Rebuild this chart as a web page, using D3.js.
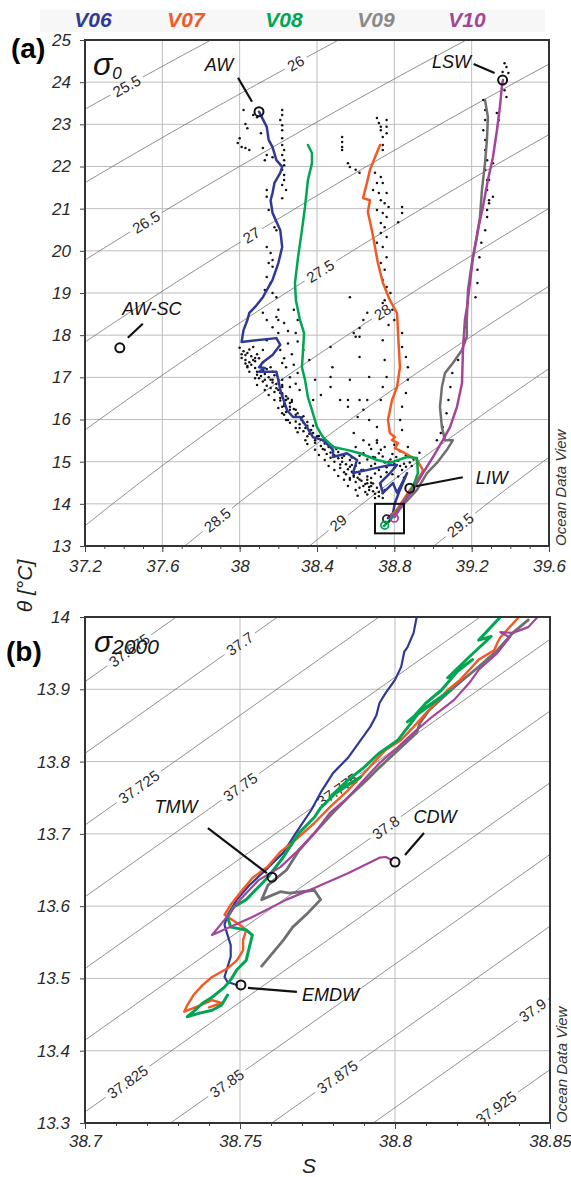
<!DOCTYPE html>
<html><head><meta charset="utf-8">
<script src="https://cdn.jsdelivr.net/npm/d3@7/dist/d3.min.js"></script>
<style>
body{margin:0;background:#fff}
svg{display:block}
text{font-family:"Liberation Sans",Arial,Helvetica,sans-serif}
</style>
</head><body>
<svg id="c" width="571" height="1177"></svg>
<script>
// ---------------- DATA ----------------
const cruises = ["V06","V07","V08","V09","V10"];
const cruiseColors = ["#2e3a96","#f15a24","#00a651","#6f6f6f","#a5459a"];
const legendColors = ["#2e3a96","#f15a24","#00a651","#8a8a8a","#a5459a"];

// Panel (a): potential temperature vs salinity, mean profiles per cruise
const a_V06 = [[38.10,23.30],[38.14,22.94],[38.15,22.63],[38.17,22.46],[38.19,22.15],[38.22,21.99],[38.21,21.85],[38.18,21.61],[38.17,21.37],[38.16,21.20],[38.17,20.90],[38.21,20.49],[38.22,20.09],[38.20,19.71],[38.17,19.31],[38.12,18.90],[38.08,18.67],[38.05,18.53],[38.04,18.36],[38.02,18.12],[38.01,17.84],[38.19,17.93],[38.21,17.77],[38.17,17.53],[38.12,17.36],[38.10,17.24],[38.13,17.22],[38.10,17.13],[38.16,17.13],[38.19,17.13],[38.20,16.94],[38.21,16.70],[38.245,16.22],[38.276,16.06],[38.312,16.06],[38.348,15.82],[38.379,15.58],[38.431,15.51],[38.483,15.28],[38.483,15.11],[38.555,15.20],[38.607,15.04],[38.586,14.73],[38.658,14.80],[38.726,14.87],[38.778,14.92],[38.814,14.92],[38.778,14.73],[38.726,14.49],[38.741,14.26],[38.793,14.49],[38.814,14.26],[38.866,14.73],[38.829,14.33],[38.803,14.02],[38.793,13.78],[38.767,13.66]];
const a_V07 = [[38.726,22.51],[38.70,22.22],[38.674,21.92],[38.658,21.61],[38.638,21.25],[38.674,21.20],[38.663,20.92],[38.684,20.49],[38.70,20.09],[38.715,19.71],[38.741,19.24],[38.777,18.83],[38.814,18.52],[38.819,18.05],[38.829,17.24],[38.814,16.77],[38.788,16.46],[38.767,15.99],[38.777,15.68],[38.803,15.58],[38.788,15.51],[38.819,15.44],[38.803,15.32],[38.855,15.20],[38.891,15.11],[38.917,15.04],[38.933,14.92],[38.948,14.80],[38.943,14.73],[38.881,14.33],[38.819,13.90],[38.78,13.69]];
const a_V08 = [[38.353,22.51],[38.374,22.32],[38.374,22.08],[38.353,21.68],[38.338,21.04],[38.322,20.49],[38.302,19.85],[38.286,19.24],[38.291,18.83],[38.312,18.36],[38.333,18.05],[38.327,17.58],[38.322,17.24],[38.338,16.94],[38.353,16.53],[38.374,16.22],[38.40,15.82],[38.431,15.58],[38.483,15.35],[38.555,15.28],[38.622,15.20],[38.71,15.04],[38.777,14.97],[38.865,15.11],[38.917,15.09],[38.922,14.73],[38.896,14.40],[38.865,14.16],[38.829,13.92],[38.793,13.69],[38.746,13.47]];
const a_V09 = [[39.269,23.58],[39.284,23.17],[39.279,22.63],[39.269,22.08],[39.253,21.44],[39.243,20.80],[39.227,20.33],[39.201,19.71],[39.181,19.07],[39.175,18.36],[39.175,17.96],[39.15,17.65],[39.103,17.34],[39.062,17.10],[39.046,16.77],[39.036,16.30],[39.046,15.82],[39.062,15.51],[39.103,15.51],[39.072,15.28],[39.02,14.97],[38.969,14.73],[38.917,14.33],[38.855,14.02],[38.803,13.74]];
const a_V10 = [[39.362,24.05],[39.356,23.88],[39.346,23.41],[39.331,22.87],[39.31,22.22],[39.284,21.68],[39.258,21.04],[39.232,20.49],[39.207,19.85],[39.191,19.24],[39.176,18.67],[39.165,18.36],[39.155,17.65],[39.15,16.86],[39.124,16.30],[39.088,15.82],[39.051,15.51],[39.0,15.11],[38.948,14.73],[38.896,14.33],[38.844,14.02],[38.803,13.69]];

// Panel (a): all CTD samples (black dots)
const a_samples = [
[38.02,23.34],[38.07,23.22],[38.09,23.17],[38.03,23.01],[38.04,22.91],[38.11,22.79],[38.00,22.67],[37.99,22.56],[38.01,22.46],[38.03,22.44],[38.05,22.39],[38.12,22.44],[38.14,22.27],[38.13,22.15],[38.17,22.22],
[38.22,23.34],[38.22,23.22],[38.21,23.10],[38.22,22.98],[38.22,22.86],[38.22,22.67],[38.22,22.51],[38.23,22.39],[38.22,22.27],[38.23,22.15],[38.23,22.03],[38.22,21.92],[38.23,21.80],[38.23,21.68],[38.22,21.56],[38.24,21.44],[38.22,21.25],
[38.14,21.44],[38.14,21.28],[38.15,20.97],[38.18,20.56],[38.19,20.49],[38.14,20.09],[38.16,19.95],[38.17,19.78],[38.15,19.71],[38.17,19.62],[38.14,19.38],[38.16,19.24],[38.13,19.07],[38.17,19.00],[38.19,18.90],
[38.12,18.53],[38.14,18.36],[38.17,18.19],[38.20,18.36],[38.20,18.05],[38.14,17.88],[38.07,17.72],[38.04,17.58],[38.03,17.41],[38.07,17.41],[38.12,17.65],[38.04,17.24],[38.09,17.13],[38.09,17.06],[38.16,17.24],[38.22,17.34],[38.17,16.94],[38.20,16.94],[38.22,16.77],[38.21,16.63],[38.24,16.46],[38.22,16.30],[38.22,16.15],[38.24,15.99],[38.26,15.92],[38.20,18.60],[38.19,18.43],[38.23,18.29],
[38.03,17.53],[38.05,17.36],[38.08,17.22],[38.05,17.13],[38.11,17.03],[38.13,16.94],[38.09,16.82],[38.16,16.75],[38.18,16.65],[38.15,16.58],[38.21,16.51],[38.23,16.37],[38.20,16.27],[38.26,16.23],[38.29,16.11],[38.25,15.99],[38.31,15.89],[38.34,15.80],[38.30,15.70],[38.36,15.66],[38.39,15.51],[38.35,15.42],[38.42,15.37],[38.44,15.28],[38.41,15.16],[38.47,15.09],[38.49,15.00],[38.46,14.90],[38.52,14.85],[38.54,14.75],[38.51,14.66],[38.57,14.61],[38.60,14.52],[38.56,14.42],[38.62,14.38],[38.65,14.28],[38.61,14.19],[38.67,14.33],[38.70,14.14],[38.73,14.45],[38.75,14.33],[38.68,14.61],[38.63,14.80],[38.58,14.92],[38.53,15.09],[38.48,15.28],[38.43,15.51],[38.37,15.75],[38.32,15.99],[38.27,16.46],[38.22,16.82],[38.17,17.13],[38.12,17.36],
[38.08,17.46],[38.12,17.17],[38.16,16.94],[38.19,16.84],[38.22,16.58],[38.26,16.39],[38.29,16.23],[38.33,16.08],[38.35,15.94],[38.38,15.85],[38.41,15.61],[38.45,15.47],[38.48,15.37],[38.51,15.23],[38.54,15.14],[38.57,15.04],[38.60,14.90],[38.62,14.71],[38.66,14.57],[38.68,14.42],[38.72,14.28],[38.74,14.14],[38.65,14.47],[38.60,14.33],[38.54,14.57],[38.49,14.80],[38.44,15.04],[38.39,15.28],[38.34,15.51],[38.29,15.80],[38.23,16.11],[38.18,16.46],[38.13,16.70],[38.08,16.98],[38.04,17.27],[38.01,17.46],
[38.00,17.70],[38.02,17.62],[38.05,17.66],[38.06,17.50],[38.01,17.55],[38.09,17.55],[38.10,17.45],[38.06,17.30],[38.03,17.33],[38.08,17.38],
[38.11,17.28],[38.14,17.20],[38.13,17.08],[38.10,16.98],[38.15,17.00],[38.18,17.05],[38.12,16.90],[38.17,16.88],[38.14,16.80],[38.19,16.74],
[38.20,16.70],[38.22,16.62],[38.24,16.55],[38.21,16.45],[38.25,16.50],[38.27,16.42],[38.23,16.32],[38.26,16.30],[38.28,16.25],[38.24,16.18],
[38.30,16.15],[38.32,16.05],[38.29,15.95],[38.33,15.92],[38.35,15.85],[38.31,15.80],[38.36,15.74],[38.33,15.72],[38.38,15.68],[38.35,15.60],
[38.40,15.60],[38.42,15.52],[38.39,15.45],[38.44,15.43],[38.46,15.35],[38.43,15.30],[38.47,15.22],[38.45,15.18],[38.49,15.15],[38.50,15.30],
[38.51,15.08],[38.53,15.00],[38.55,14.94],[38.52,14.93],[38.56,14.82],[38.58,14.76],[38.55,14.70],[38.59,14.68],[38.61,14.62],[38.57,14.88],
[38.63,14.55],[38.64,14.42],[38.67,14.40],[38.69,14.30],[38.66,14.22],[38.70,14.24],[38.72,14.18],[38.74,14.25],[38.71,14.38],[38.69,14.48],
[38.58,15.10],[38.62,15.14],[38.66,15.05],[38.70,15.10],[38.74,15.12],[38.77,15.00],[38.80,14.95],[38.83,14.90],[38.86,14.88],[38.89,14.90],[38.76,14.75],[38.79,14.70],[38.82,14.65],[38.85,14.62],[38.72,14.80],[38.68,14.90],[38.64,15.20],[38.60,15.35],[38.67,15.40],[38.71,15.45],
[38.25,17.80],[38.27,17.55],[38.23,17.45],[38.28,17.30],[38.26,17.00],[38.29,16.85],[38.31,16.70],[38.25,18.10],[38.30,17.85],[38.33,17.65],
[38.47,17.72],[38.48,17.24],[38.47,16.77],[38.57,16.94],[38.62,17.48],[38.62,17.96],[38.59,18.05],[38.56,16.46],[38.62,16.46],[38.64,16.23],[38.61,16.06],[38.67,15.99],[38.71,15.82],[38.59,15.68],[38.64,15.51],[38.71,15.51],[38.73,15.28],[38.69,15.11],[38.62,14.97],[38.64,14.80],[38.59,14.64],[38.57,14.57],[38.66,14.49],[38.73,14.64],[38.76,14.87],[38.81,15.11],[38.87,15.35],[38.93,15.21],
[38.60,17.96],[38.62,18.17],[38.64,18.36],[38.66,18.53],[38.47,17.01],[38.52,16.46],[38.56,16.30],[38.67,17.01],[38.66,16.46],
[38.70,14.95],[38.75,14.98],[38.78,15.05],[38.82,15.02],[38.85,14.95],[38.80,14.85],[38.84,14.80],[38.88,14.98],[38.90,15.05],[38.86,15.15],[38.83,15.25],[38.79,15.18],[38.72,15.20],[38.68,15.30],[38.75,15.35],[38.80,15.40],[38.70,14.72],[38.66,14.65],[38.62,14.58],[38.68,14.50],
[38.28,18.60],[38.30,18.36],[38.29,18.05],[38.21,17.65],[38.24,17.24],[38.22,16.94],[38.26,16.77],[38.30,17.10],[38.36,17.41],[38.39,16.94],[38.42,16.58],[38.38,16.46],
[38.84,18.05],[38.84,17.72],[38.86,17.48],[38.87,17.24],[38.87,16.94],[38.86,16.63],[38.84,16.30],[38.83,15.99],[38.84,15.75],[38.74,17.88],[38.75,17.41],[38.76,17.01],[38.74,16.77],[38.73,16.46],
[38.53,22.70],[38.53,22.58],[38.53,22.46],[38.53,22.39],[38.56,22.08],[38.57,21.99],[38.60,21.92],[38.62,21.85],[38.71,23.15],[38.72,23.03],[38.73,22.94],[38.73,22.86],[38.74,22.70],[38.76,23.10],[38.76,22.94],[38.76,22.79],[38.74,22.51],[38.74,22.39],[38.70,21.85],[38.73,21.75],[38.71,21.61],[38.74,21.61],[38.69,21.44],[38.72,21.37],[38.76,21.37],[38.73,21.20],[38.75,21.13],[38.77,21.04],[38.71,20.97],[38.74,20.90],[38.76,20.80],[38.73,20.66],[38.75,20.56],[38.73,20.42],[38.76,20.33],[38.71,20.19],[38.74,20.09],[38.76,19.85],[38.73,19.71],[38.75,19.55],[38.74,19.31],[38.76,19.14],[38.78,19.00],[38.75,18.83],[38.84,21.04],[38.84,20.90],[38.82,20.68],[38.57,18.90],[38.74,18.76],[38.79,18.60],[38.80,18.36],[38.77,18.24],
[39.37,24.45],[39.38,24.36],[39.36,24.24],[39.39,24.22],[39.37,23.81],[39.38,23.65],[39.26,23.58],[39.27,23.34],[39.27,23.10],[39.26,22.86],[39.27,22.63],[39.27,22.39],[39.28,22.15],[39.27,21.92],[39.28,21.68],[39.28,21.44],[39.29,21.20],[39.28,20.97],[39.33,23.27],[39.34,23.10],[39.31,22.08],[39.29,21.68],[39.31,21.28],[39.29,21.13],[39.28,20.80],[39.27,20.49],[39.25,20.19],[39.24,19.85],[39.23,19.55],[39.23,19.24],[39.22,18.90],[39.18,18.76],[39.17,18.19],[39.16,17.88],[39.13,17.41],[39.10,17.10],[39.09,16.77],[39.08,16.46],[39.07,16.15],[39.05,15.82],[39.04,15.68],[39.02,15.51]
];

// Panel (b): deep-water detail
const b_V06 = [[38.807,14.000],[38.806,13.978],[38.804,13.958],[38.803,13.952],[38.802,13.931],[38.800,13.913],[38.797,13.895],[38.795,13.881],[38.794,13.864],[38.792,13.848],[38.789,13.830],[38.785,13.806],[38.780,13.784],[38.776,13.757],[38.773,13.733],[38.768,13.701],[38.764,13.674],[38.759,13.653],[38.753,13.629],[38.749,13.609],[38.746,13.588],[38.745,13.574],[38.746,13.560],[38.747,13.546],[38.747,13.530],[38.746,13.516],[38.745,13.502],[38.746,13.495],[38.749,13.491]];
const b_V07 = [[38.840,14.000],[38.837,13.986],[38.834,13.972],[38.833,13.964],[38.832,13.954],[38.827,13.941],[38.824,13.927],[38.821,13.913],[38.817,13.899],[38.814,13.885],[38.810,13.867],[38.806,13.848],[38.802,13.830],[38.797,13.816],[38.793,13.798],[38.789,13.779],[38.785,13.761],[38.779,13.737],[38.774,13.715],[38.768,13.692],[38.763,13.675],[38.759,13.655],[38.754,13.639],[38.750,13.618],[38.747,13.602],[38.745,13.588],[38.750,13.574],[38.752,13.567],[38.751,13.553],[38.751,13.539],[38.749,13.525],[38.746,13.514],[38.741,13.502],[38.738,13.491],[38.735,13.477],[38.733,13.463],[38.732,13.454],[38.735,13.459],[38.739,13.466],[38.741,13.470],[38.744,13.466],[38.740,13.460]];
const b_V08 = [[38.834,14.000],[38.827,13.968],[38.831,13.973],[38.824,13.945],[38.817,13.916],[38.825,13.941],[38.820,13.924],[38.815,13.899],[38.810,13.881],[38.806,13.862],[38.804,13.855],[38.818,13.899],[38.808,13.869],[38.801,13.830],[38.795,13.812],[38.790,13.792],[38.785,13.775],[38.779,13.751],[38.789,13.779],[38.782,13.761],[38.776,13.736],[38.774,13.723],[38.769,13.701],[38.764,13.668],[38.759,13.640],[38.752,13.609],[38.748,13.599],[38.746,13.585],[38.747,13.571],[38.752,13.567],[38.754,13.560],[38.753,13.543],[38.752,13.525],[38.749,13.512],[38.747,13.498],[38.745,13.488],[38.741,13.474],[38.738,13.466],[38.735,13.454],[38.733,13.447],[38.737,13.452],[38.741,13.456],[38.744,13.463],[38.746,13.477]];
const b_V09 = [[38.843,13.996],[38.838,13.978],[38.833,13.954],[38.827,13.931],[38.823,13.917],[38.817,13.895],[38.811,13.871],[38.808,13.853],[38.807,13.840],[38.802,13.820],[38.795,13.792],[38.791,13.775],[38.785,13.751],[38.780,13.729],[38.774,13.701],[38.769,13.677],[38.765,13.650],[38.759,13.629],[38.757,13.609],[38.763,13.620],[38.766,13.618],[38.774,13.622],[38.776,13.609],[38.772,13.591],[38.767,13.571],[38.764,13.553],[38.757,13.517]];
const b_V10 = [[38.846,14.000],[38.843,13.986],[38.838,13.978],[38.834,13.979],[38.837,13.972],[38.833,13.950],[38.827,13.927],[38.824,13.909],[38.819,13.885],[38.812,13.862],[38.806,13.840],[38.801,13.820],[38.795,13.798],[38.790,13.775],[38.785,13.751],[38.779,13.729],[38.774,13.701],[38.768,13.674],[38.763,13.654],[38.756,13.636],[38.750,13.609],[38.745,13.581],[38.741,13.560],[38.754,13.585],[38.765,13.609],[38.774,13.625],[38.785,13.646],[38.795,13.667],[38.797,13.668],[38.799,13.664]];

// Water-mass markers
const a_waterMasses = ["AW","LSW","AW-SC","LIW"];
const a_wmS = [38.10, 39.36, 37.38, 38.88];
const a_wmT = [23.30, 24.05, 17.70, 14.37];
const b_waterMasses = ["TMW","CDW","EMDW"];
const b_wmS = [38.7603, 38.80, 38.7503];
const b_wmT = [13.640, 13.661, 13.491];

// Isopycnal levels and tick values
const a_levels = [25.5, 26, 26.5, 27, 27.5, 28, 28.5, 29, 29.5];
const b_levels = [37.675, 37.7, 37.725, 37.75, 37.775, 37.8, 37.825, 37.85, 37.875, 37.9, 37.925];
const a_xTicks = [37.2, 37.6, 38, 38.4, 38.8, 39.2, 39.6];
const a_yTicks = [13,14,15,16,17,18,19,20,21,22,23,24,25];
const b_xTicks = [38.7, 38.75, 38.8, 38.85];
const b_yTicks = [13.3,13.4,13.5,13.6,13.7,13.8,13.9,14];

// ---------------- LAYOUT / STYLE ----------------
const a_labelT = [23.91, 24.45, 20.68, 20.37, 19.52, 18.55, 13.62, 13.55, 13.50];   // where contour labels sit
const b_labelT = [13.954, 13.963, 13.765, 13.765, 13.761, 13.709, 13.357, 13.355, 13.364, 13.456, 13.321];
const legendX = [93, 186, 284, 376, 467];

// sigma-0 : UNESCO one-atmosphere equation of state
function sigma0(S,T){
  const T2=T*T,T3=T2*T,T4=T3*T,T5=T4*T;
  const rw=999.842594+6.793952e-2*T-9.095290e-3*T2+1.001685e-4*T3-1.120083e-6*T4+6.536332e-9*T5;
  const A=8.24493e-1-4.0899e-3*T+7.6438e-5*T2-8.2467e-7*T3+5.3875e-9*T4;
  const B=-5.72466e-3+1.0227e-4*T-1.6546e-6*T2;
  return rw+A*S+B*S*Math.sqrt(S)+4.8314e-4*S*S-1000;
}
// sigma-2000 : local linearisation for the zoomed window
function sigma2(S,T){ return 37.875+0.765*(S-38.7603)-0.252*(T-13.3); }

function solveS(fn,L,T,lo,hi){
  for(let i=0;i<60;i++){const m=(lo+hi)/2; if(fn(m,T)<L) lo=m; else hi=m;}
  return (lo+hi)/2;
}

const svg=d3.select("#c");
const defs=svg.append("defs");

// faint band behind legend
svg.append("rect").attr("x",40).attr("y",10).attr("width",505).attr("height",22).attr("fill","#f7f7f7");
cruises.forEach((c,i)=>{
  svg.append("text").attr("x",legendX[i]).attr("y",27).attr("text-anchor","middle")
    .attr("font-size",21).attr("font-weight","bold").attr("font-style","italic")
    .attr("fill",legendColors[i]).text(c);
});

function panel(o){
  const x=o.x, y=o.y;
  const [x0,x1]=x.range(); const [yB,yT]=y.range();
  const g=svg.append("g");
  defs.append("clipPath").attr("id","clip"+o.id).append("rect")
    .attr("x",x0).attr("y",yT).attr("width",x1-x0).attr("height",yB-yT);
  // grid
  g.append("g").selectAll("line").data(o.xTicks.slice(1,-1)).join("line")
    .attr("x1",d=>x(d)).attr("x2",d=>x(d)).attr("y1",yT).attr("y2",yB)
    .attr("stroke","#bdbdbd").attr("stroke-width",1);
  g.append("g").selectAll("line").data(o.yTicks.slice(1,-1)).join("line")
    .attr("y1",d=>y(d)).attr("y2",d=>y(d)).attr("x1",x0).attr("x2",x1)
    .attr("stroke","#bdbdbd").attr("stroke-width",1);
  // isopycnals
  const mask=defs.append("mask").attr("id","mask"+o.id).attr("maskUnits","userSpaceOnUse")
    .attr("x",0).attr("y",0).attr("width",571).attr("height",1177);
  mask.append("rect").attr("x",0).attr("y",0).attr("width",571).attr("height",1177).attr("fill","#fff");
  const cg=g.append("g").attr("clip-path",`url(#clip${o.id})`);
  const lg=cg.append("g").attr("mask",`url(#mask${o.id})`);
  const line=d3.line().x(d=>x(d[0])).y(d=>y(d[1]));
  const [tA,tB]=o.tRange;
  o.levels.forEach((L,i)=>{
    const pts=[];
    for(let k=0;k<=300;k++){const t=tA+(tB-tA)*k/300; pts.push([solveS(o.sigma,L,t,o.sRange[0],o.sRange[1]),t]);}
    lg.append("path").attr("d",line(pts)).attr("fill","none").attr("stroke","#707070").attr("stroke-width",0.8);
    const lt=o.labelT[i], dt=(tB-tA)*0.004;
    const s=solveS(o.sigma,L,lt,o.sRange[0],o.sRange[1]);
    const p1=[x(solveS(o.sigma,L,lt-dt,o.sRange[0],o.sRange[1])),y(lt-dt)];
    const p2=[x(solveS(o.sigma,L,lt+dt,o.sRange[0],o.sRange[1])),y(lt+dt)];
    const ang=Math.atan2(p2[1]-p1[1],p2[0]-p1[0])*180/Math.PI;
    const tr=`translate(${x(s)},${y(lt)}) rotate(${ang})`;
    const tx=cg.append("text").attr("transform",tr).attr("text-anchor","middle").attr("dy","0.36em")
      .attr("font-size",15).attr("fill","#2a2a2a").text(String(L));
    const w=tx.node().getComputedTextLength();
    mask.append("rect").attr("transform",tr).attr("x",-w/2-4).attr("y",-7).attr("width",w+8).attr("height",14).attr("fill","#000");
  });
  const dg=g.append("g").attr("clip-path",`url(#clip${o.id})`);
  if(o.samples){
    dg.append("g").selectAll("circle").data(o.samples).join("circle")
      .attr("cx",d=>x(d[0])).attr("cy",d=>y(d[1])).attr("r",1.25).attr("fill","#111");
  }
  // cruise profiles (grey first so others sit on top)
  [3,0,1,2,4].forEach(i=>{
    dg.append("path").attr("d",line(o.series[i])).attr("fill","none")
      .attr("stroke",cruiseColors[i]).attr("stroke-width",o.widths[i])
      .attr("stroke-linejoin","round").attr("stroke-linecap","round");
  });
  if(o.extra) o.extra(g,x,y);
  // markers
  o.marks.forEach(m=>{
    const cx=x(m.S), cy=y(m.T);
    g.append("line").attr("x1",cx+m.lead[0]).attr("y1",cy+m.lead[1]).attr("x2",cx+m.lead[2]).attr("y2",cy+m.lead[3])
      .attr("stroke","#111").attr("stroke-width",2.2);
    g.append("circle").attr("cx",cx).attr("cy",cy).attr("r",4.5).attr("fill","none").attr("stroke","#111").attr("stroke-width",2);
    g.append("text").attr("x",cx+m.lab[0]).attr("y",cy+m.lab[1]).attr("text-anchor",m.anchor)
      .attr("font-size",18).attr("font-style","italic").attr("fill","#111").text(m.name);
  });
  // frame
  g.append("rect").attr("x",x0).attr("y",yT).attr("width",x1-x0).attr("height",yB-yT)
    .attr("fill","none").attr("stroke","#333").attr("stroke-width",2);
  // axes
  g.append("g").attr("transform",`translate(0,${yB})`)
    .call(d3.axisBottom(x).tickValues(o.xTicks).tickSize(6).tickPadding(o.xPad).tickFormat(d=>String(d)));
  g.append("g").attr("transform",`translate(0,${yB})`)
    .call(d3.axisBottom(x).tickValues(o.xMinor).tickSize(3).tickFormat(""));
  g.append("g").attr("transform",`translate(${x0},0)`)
    .call(d3.axisLeft(y).tickValues(o.yTicks).tickSize(5).tickPadding(o.yPad).tickFormat(d=>String(d)));
  g.selectAll(".domain").remove();
  g.selectAll(".tick line").attr("stroke","#444");
  g.selectAll(".tick text").attr("font-size",17).attr("font-style","italic").attr("fill","#2a2a2a")
    .attr("font-family","'Liberation Sans',Arial,sans-serif");
  // ODV credit
  g.append("text").attr("transform",`translate(${x1+17},${yB}) rotate(-90)`)
    .attr("font-size",15).attr("font-style","italic").attr("fill","#333").text("Ocean Data View");
}

const xa=d3.scaleLinear().domain([37.2,39.6]).range([85,549]);
const ya=d3.scaleLinear().domain([13,25]).range([546,40]);
const xb=d3.scaleLinear().domain([38.7,38.85]).range([85,550]);
const yb=d3.scaleLinear().domain([13.3,14]).range([1123,617]);

panel({
  id:"a", x:xa, y:ya, sigma:sigma0, levels:a_levels, labelT:a_labelT,
  tRange:[12.5,25.5], sRange:[34,42],
  xTicks:a_xTicks, yTicks:a_yTicks, xMinor:d3.range(0,25).map(i=>+(37.2+i*0.1).toFixed(1)),
  xPad:8, yPad:9,
  samples:a_samples, series:[a_V06,a_V07,a_V08,a_V09,a_V10], widths:[2.5,2.5,2.5,2.5,2.5],
  marks:[
    {name:a_waterMasses[0],S:a_wmS[0],T:a_wmT[0],lead:[-7,-10,-21,-34],lab:[-40,-41],anchor:"middle"},
    {name:a_waterMasses[1],S:a_wmS[1],T:a_wmT[1],lead:[-8,-7,-29,-16],lab:[-51,-12],anchor:"middle"},
    {name:a_waterMasses[2],S:a_wmS[2],T:a_wmT[2],lead:[8,-10,23,-24],lab:[32,-33],anchor:"middle"},
    {name:a_waterMasses[3],S:a_wmS[3],T:a_wmT[3],lead:[6,-2,53,-11],lab:[66,-4],anchor:"start"}
  ],
  extra:(g,x,y)=>{
    // zoom box = panel (b) window
    g.append("rect").attr("x",x(38.7)).attr("y",y(14)).attr("width",x(38.85)-x(38.7)).attr("height",y(13.3)-y(14))
      .attr("fill","none").attr("stroke","#111").attr("stroke-width",2);
    const cols=["#222","#a5459a","#00a651"];
    b_waterMasses.forEach((n,i)=>{
      g.append("circle").attr("cx",x(b_wmS[i])).attr("cy",y(b_wmT[i])).attr("r",3.8)
        .attr("fill","none").attr("stroke",cols[i]).attr("stroke-width",1.8);
    });
  }
});

panel({
  id:"b", x:xb, y:yb, sigma:sigma2, levels:b_levels, labelT:b_labelT,
  tRange:[13.2,14.1], sRange:[38.4,39.2],
  xTicks:b_xTicks, yTicks:b_yTicks, xMinor:d3.range(0,16).map(i=>+(38.7+i*0.01).toFixed(2)),
  xPad:6, yPad:10,
  samples:null, series:[b_V06,b_V07,b_V08,b_V09,b_V10], widths:[2.2,2.4,3,2.8,2.2],
  marks:[
    {name:b_waterMasses[0],S:b_wmS[0],T:b_wmT[0],lead:[-5,-4,-64,-49],lab:[-96,-64],anchor:"middle"},
    {name:b_waterMasses[1],S:b_wmS[1],T:b_wmT[1],lead:[10,-7,29,-29],lab:[40,-39],anchor:"middle"},
    {name:b_waterMasses[2],S:b_wmS[2],T:b_wmT[2],lead:[7,3,56,7],lab:[61,16],anchor:"start"}
  ]
});

// panel tags and symbols
svg.append("text").attr("x",11).attr("y",58).attr("font-size",28).attr("font-weight","bold").text("(a)");
svg.append("text").attr("x",6).attr("y",661).attr("font-size",28).attr("font-weight","bold").text("(b)");
const s0=svg.append("text").attr("x",93).attr("y",75).attr("font-style","italic").attr("fill","#111");
s0.append("tspan").attr("font-size",32).text("σ");
s0.append("tspan").attr("font-size",17).attr("dy",4).text("0");
const s2=svg.append("text").attr("x",94).attr("y",652).attr("font-style","italic").attr("fill","#111");
s2.append("tspan").attr("font-size",30).text("σ");
s2.append("tspan").attr("font-size",21).attr("dy",2).text("2000");
// axis titles
svg.append("text").attr("transform","translate(32,586) rotate(-90)").attr("text-anchor","middle")
  .attr("font-size",21).attr("font-style","italic").attr("fill","#222").text("θ [°C]");
svg.append("text").attr("x",309).attr("y",1173).attr("text-anchor","middle")
  .attr("font-size",21).attr("font-style","italic").attr("fill","#222").text("S");
</script>
</body></html>
